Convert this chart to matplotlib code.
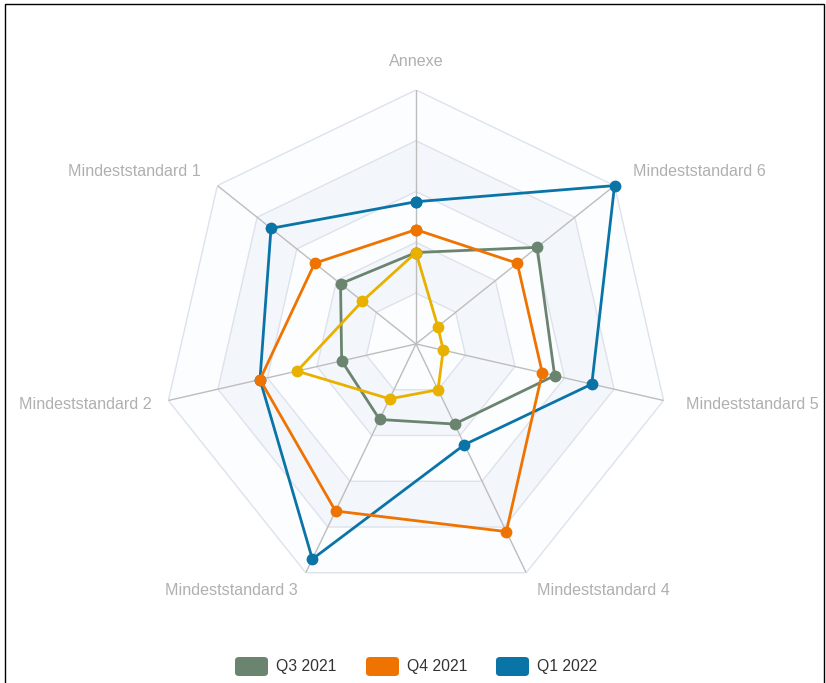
import matplotlib
matplotlib.use("Agg")
import matplotlib.pyplot as plt
import numpy as np
from matplotlib.patches import FancyBboxPatch, Rectangle

# axes, clockwise from the top
axis_labels = ["Annexe", "Mindeststandard 6", "Mindeststandard 5", "Mindeststandard 4",
               "Mindeststandard 3", "Mindeststandard 2", "Mindeststandard 1"]
max_value = 100
ring_levels = [20, 40, 60, 80, 100]

# series values (percent of the outer ring)
q3_2021 = [36, 61, 56, 35, 33, 30, 38]
q4_2021 = [45, 51, 51, 82, 73, 63, 51]
q1_2022 = [56, 100, 71, 44, 94, 63, 73]
extra = [36, 11, 11, 20, 24, 48, 27]

series_names = ["Q3 2021", "Q4 2021", "Q1 2022"]
colors = {"Q3 2021": "#6b8470", "Q4 2021": "#ef7300", "Q1 2022": "#0a74a6", "extra": "#e8b100"}

plt.rcParams["font.family"] = ["Liberation Sans", "DejaVu Sans"]

fig = plt.figure(figsize=(8.26, 6.83), dpi=100)
ax = fig.add_axes([0.1961, 0.1245, 0.615, 0.7438], projection="polar")
ax.set_theta_zero_location("N")
ax.set_theta_direction(-1)
ax.set_ylim(0, max_value)
ax.grid(False)
ax.spines["polar"].set_visible(False)
ax.set_xticks([])
ax.set_yticks([])
ax.patch.set_alpha(0)

n = len(axis_labels)
theta = np.arange(n) * 2 * np.pi / n
theta_c = np.append(theta, theta[0])

# alternating bands, drawn from outside in
band_colors = ["#fcfdfe", "#f3f6fb"]
for i, lvl in enumerate(ring_levels[::-1]):
    ax.fill(theta_c, [lvl] * (n + 1), color=band_colors[i % 2], lw=0, zorder=0)
for lvl in ring_levels:
    ax.plot(theta_c, [lvl] * (n + 1), color="#dde2ec", lw=1.0, zorder=1)
for t in theta:
    ax.plot([t, t], [0, max_value], color="#bdbdbd", lw=1.0, zorder=1)


def draw(vals, col, z):
    v = np.append(vals, vals[0])
    ax.plot(theta_c, v, color=col, lw=2.0, marker="o", markersize=8.5,
            markeredgewidth=0, zorder=z, clip_on=False)


draw(q1_2022, colors["Q1 2022"], 3)
draw(q3_2021, colors["Q3 2021"], 4)
draw(q4_2021, colors["Q4 2021"], 5)
draw(extra, colors["extra"], 6)

# axis names
offsets = [(0, 28, "center"), (18, 14, "left"), (22, -4, "left"), (11, -18, "left"),
           (-8, -18, "right"), (-17, -4, "right"), (-17, 14, "right")]
for t, lab, (dx, dy, ha) in zip(theta, axis_labels, offsets):
    ax.annotate(lab, (t, max_value), xytext=(dx, dy), textcoords="offset pixels",
                ha=ha, va="center", color="#b0b0b0", fontsize=11.6, annotation_clip=False)

# legend
W, H = 826, 683
leg_x = [235, 366, 496]
for x0, name in zip(leg_x, series_names):
    box = FancyBboxPatch((x0 / W, (H - 676) / H), 33 / W, 19 / H,
                         boxstyle="round,pad=0,rounding_size=0.005",
                         transform=fig.transFigure, facecolor=colors[name],
                         edgecolor="none")
    fig.patches.append(box)
    fig.text((x0 + 41) / W, (H - 666) / H, name, ha="left", va="center",
             fontsize=11.3, color="#333333")

# thin frame around the figure
fig.patches.append(Rectangle((5 / W, -0.05), 819 / W, 1.05 - 4 / H,
                             transform=fig.transFigure, fill=False,
                             edgecolor="black", lw=1.0))

fig.savefig("out.png", dpi=100)
